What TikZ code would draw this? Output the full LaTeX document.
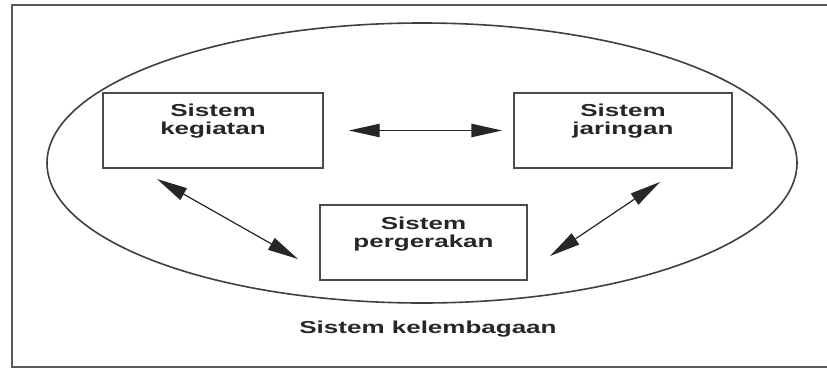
\documentclass[tikz,border=0pt]{standalone}
\usepackage{fontspec}
\newfontfamily\labfont[FakeStretch=1.5]{Liberation Sans}
\usetikzlibrary{arrows.meta}
\tikzset{
  frameline/.style={draw=black!65, line width=1.8pt},
  boxstyle/.style={draw=black!70, line width=1.4pt, inner sep=0pt},
  ovalline/.style={draw=black!75, line width=1.2pt},
  labstyle/.style={font=\labfont\bfseries\fontsize{13}{13.5}\selectfont, text=black!85, align=center, inner sep=0pt, anchor=north},
  biarrow/.style={draw=black!85, line width=0.9pt, {Triangle[length=23pt,width=10pt]}-{Triangle[length=23pt,width=10pt]}}
}
\begin{document}
\begin{tikzpicture}[x=0.75pt,y=-0.75pt]
\useasboundingbox (0,0) rectangle (827,372);
\fill[white] (0,0) rectangle (827,372);
% frame (right side cropped)
\draw[frameline] (827,5) -- (12,5) -- (12,367) -- (827,367);
% ellipse
\draw[ovalline] (422,163) ellipse [x radius=375, y radius=140];
% boxes
\node[boxstyle, minimum width=220*0.75pt, minimum height=75*0.75pt] (keg) at (213,130.5) {};
\node[boxstyle, minimum width=218*0.75pt, minimum height=75*0.75pt] (jar) at (623,130.5) {};
\node[boxstyle, minimum width=207*0.75pt, minimum height=75*0.75pt] (per) at (423.5,242.5) {};
% labels
\node[labstyle] (tkeg) at (213,104) {Sistem\\kegiatan};
\node[labstyle] (tjar) at (623,104) {Sistem\\jaringan};
\node[labstyle] (tper) at (423.5,217) {Sistem\\pergerakan};
\node[labstyle] (tkel) at (428,321) {Sistem kelembagaan};
% arrow end points
\coordinate (a1) at (157,179);
\coordinate (a2) at (298,259);
\coordinate (b1) at (550,256);
\coordinate (b2) at (660,182);
\draw[biarrow, shorten <=25*0.75pt, shorten >=11*0.75pt] (keg.east) -- (jar.west);
\draw[biarrow] (a1) -- (a2);
\draw[biarrow] (b1) -- (b2);
\end{tikzpicture}
\end{document}
